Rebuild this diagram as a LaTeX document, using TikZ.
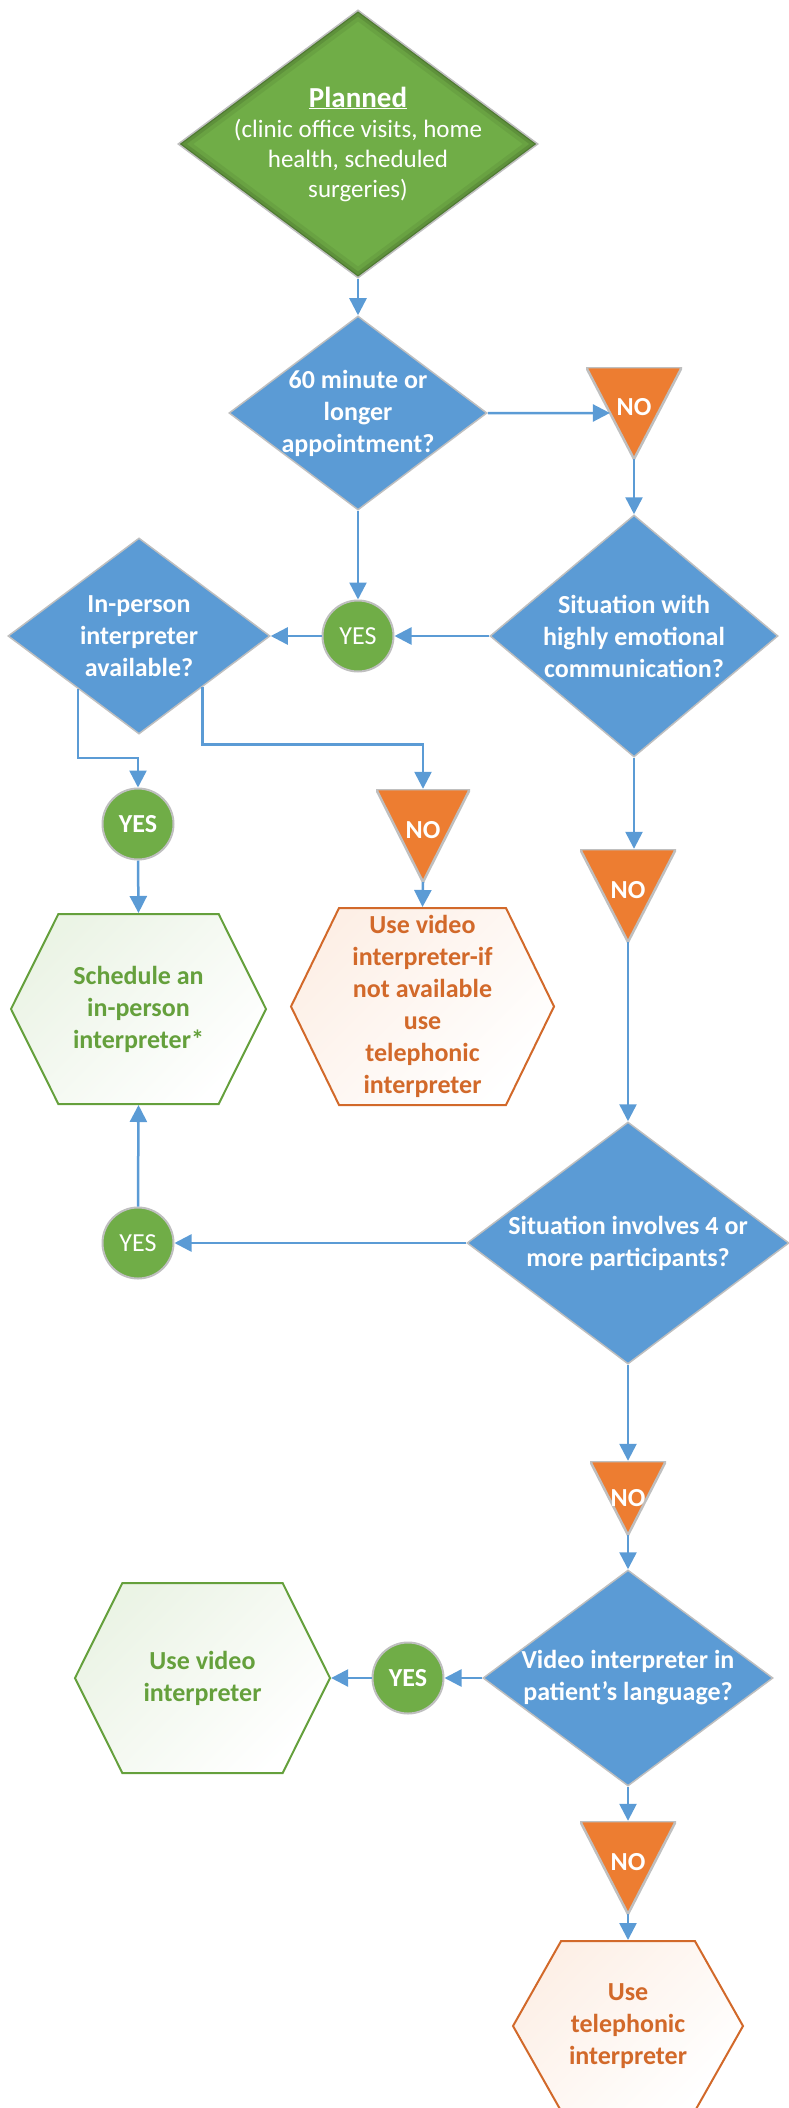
\documentclass[tikz,border=0pt]{standalone}
\usepackage{fontspec}
\setmainfont{Carlito}
\usetikzlibrary{shapes.geometric,shapes.symbols,arrows.meta,calc}

\definecolor{qblue}{HTML}{5B9BD5}
\definecolor{ygreen}{HTML}{70AD47}
\definecolor{norange}{HTML}{ED7D31}
\definecolor{rimgray}{HTML}{BFBFBF}
\definecolor{hexgreen}{HTML}{65A03C}
\definecolor{hexorange}{HTML}{D2692A}

\tikzset{
  txt/.style={font=\fontsize{26}{32}\selectfont\bfseries, align=center},
  decision/.style={shape=diamond, fill=qblue, draw=rimgray, line width=1.5pt, inner sep=0pt},
  qlabel/.style={txt, text=white},
  yesdot/.style={circle, fill=ygreen, draw=rimgray, line width=2pt, minimum size=71pt,
    inner sep=0pt, text=white, font=\fontsize{26}{32}\selectfont},
  notri/.style={rectangle, inner sep=0pt, text depth=12pt, text=white, txt,
    path picture={\filldraw[fill=norange, draw=rimgray, line width=2.5pt]
      (path picture bounding box.north west) -- (path picture bounding box.north east)
      -- (path picture bounding box.south) -- cycle;}},
  acthex/.style={signal, signal to=west and east, inner sep=0pt, line width=2pt, txt},
  greenhex/.style={acthex, draw=hexgreen, text=hexgreen, top color=ygreen!14, bottom color=white, shading angle=45},
  orangehex/.style={acthex, draw=hexorange, text=hexorange, top color=norange!12, bottom color=white, shading angle=45},
  flow/.style={draw=qblue, line width=2.5pt, -{Triangle[length=17pt,width=17pt]}},
}

\begin{document}
\begin{tikzpicture}[x=1pt,y=1pt]
\useasboundingbox (0,0) rectangle (788,-2108);

% start
\node[decision, fill=ygreen, minimum width=360pt, minimum height=268pt,
  path picture={\foreach \w/\o in {18/.06,10/.10,4/.16}
    \draw[line width=\w pt, black, opacity=\o] (path picture bounding box.north) -- (path picture bounding box.east)
      -- (path picture bounding box.south) -- (path picture bounding box.west) -- cycle;},
  label={[text=white, align=center, font=\fontsize{25}{30}\selectfont]center:{{\fontsize{29}{36}\selectfont\bfseries\underline{Planned}}\\(clinic office visits, home\\health, scheduled\\surgeries)}}]
  (plan) at (358,-144) {};

% questions
\node[decision, minimum width=258pt, minimum height=194pt,
  label={[qlabel]center:60 minute or\\longer\\appointment?}] (q60) at (358,-413) {};
\node[decision, minimum width=288pt, minimum height=242pt,
  label={[qlabel]center:Situation with\\highly emotional\\communication?}] (qemo) at (634,-636) {};
\node[decision, minimum width=262pt, minimum height=196pt,
  label={[qlabel]center:In-person\\interpreter\\available?}] (qip) at (139,-636) {};
\node[decision, minimum width=322pt, minimum height=242pt,
  label={[qlabel]center:Situation involves 4 or\\more participants?}] (q4) at (628,-1243) {};
\node[decision, minimum width=290pt, minimum height=216pt,
  label={[qlabel]center:Video interpreter in\\patient’s language?}] (qvid) at (628,-1678) {};

% yes
\node[yesdot] (y1) at (358,-636) {YES};
\node[yesdot, font=\fontsize{26}{32}\selectfont\bfseries] (y2) at (138,-824) {YES};
\node[yesdot] (y3) at (138,-1243) {YES};
\node[yesdot, font=\fontsize{26}{32}\selectfont\bfseries] (y4) at (408,-1678) {YES};

% no
\node[notri, minimum width=96pt, minimum height=92pt] (n1) at (634,-413) {NO};
\node[notri, minimum width=94pt, minimum height=93pt] (n2) at (423,-835.5) {NO};
\node[notri, minimum width=96pt, minimum height=93pt] (n3) at (628,-895.5) {NO};
\node[notri, minimum width=76pt, minimum height=74pt, text depth=0pt] (n4) at (628,-1498) {NO};
\node[notri, minimum width=96pt, minimum height=93pt] (n5) at (628,-1867.5) {NO};

% outcomes
\node[greenhex, minimum width=255pt, minimum height=190pt, signal pointer angle=127]
  (hg1) at (138.5,-1009) {Schedule an\\in-person\\interpreter*};
\node[orangehex, minimum width=263pt, minimum height=197pt, signal pointer angle=128]
  (ho1) at (422.5,-1006.5) {Use video\\interpreter-if\\not available\\use\\telephonic\\interpreter};
\node[greenhex, minimum width=255pt, minimum height=190pt, signal pointer angle=127]
  (hg2) at (202.5,-1678) {Use video\\interpreter};
\node[orangehex, minimum width=230pt, minimum height=170pt, signal pointer angle=121]
  (ho2) at (628,-2026) {Use\\telephonic\\interpreter};

% connectors
\draw[flow] (plan.south) -- (q60.north);
\draw[flow] (q60.east) -- ($(n1.north west)!.5!(n1.south)$);
\draw[flow] (n1.south) -- (qemo.north);
\draw[flow] (q60.south) -- (y1.north);
\draw[flow] (qemo.west) -- (y1.east);
\draw[flow] (y1.west) -- (qip.east);
\draw[flow] (qip.221) -- ++(0,-69) -| (y2.north);
\draw[flow] (qip.321) -- ++(0,-57) -| (n2.north);
\draw[flow] (y2.south) -- (hg1.north);
\draw[flow] (n2.south) -- (ho1.north);
\draw[flow] (qemo.south) -- (qemo.south |- n3.north);
\draw[flow] (n3.south) -- (q4.north);
\draw[flow] (q4.west) -- (y3.east);
\draw[flow] (y3.north) -- (hg1.south);
\draw[flow] (q4.south) -- (n4.north);
\draw[flow] (n4.south) -- (qvid.north);
\draw[flow] (qvid.west) -- (y4.east);
\draw[flow] (y4.west) -- (hg2.east);
\draw[flow] (qvid.south) -- (n5.north);
\draw[flow] (n5.south) -- (ho2.north);
\end{tikzpicture}
\end{document}
